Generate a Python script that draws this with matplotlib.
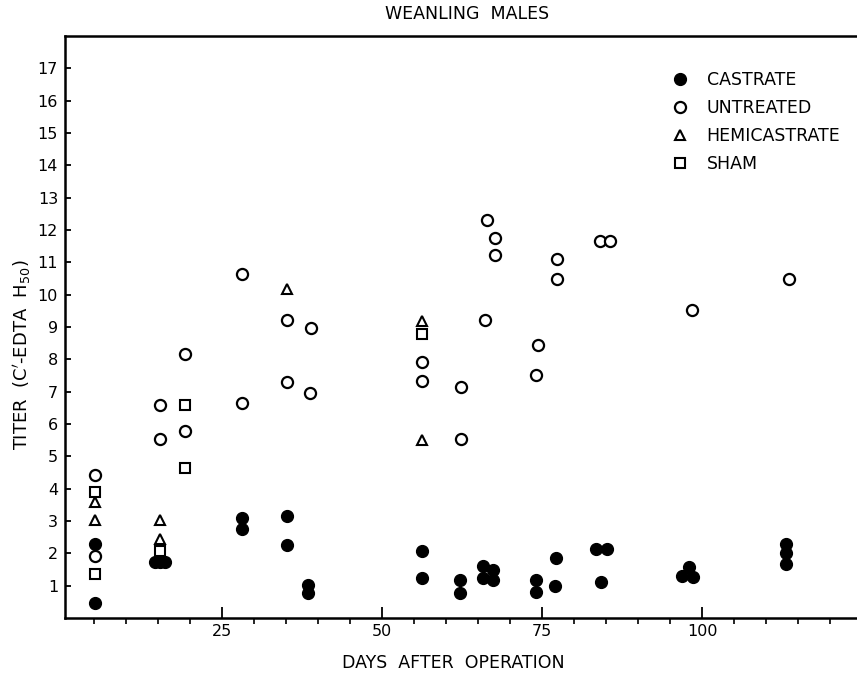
import matplotlib.pyplot as plt
from matplotlib.ticker import MultipleLocator

# Data (days after operation, titer)
castrate_days = [5.2, 5.2, 14.5, 15.3, 16.1, 28.1, 28.1, 35.1, 35.1, 38.4, 38.4,
                 56.2, 56.2, 62.2, 62.2, 65.8, 65.8, 67.3, 67.3, 74.1, 74.1,
                 77.2, 77.0, 83.5, 85.1, 84.2, 96.8, 98.0, 98.6, 113.1, 113.1, 113.1]
castrate_titer = [2.28, 0.45, 1.72, 1.72, 1.72, 3.10, 2.74, 3.15, 2.26, 1.02, 0.76,
                  2.08, 1.25, 1.17, 0.78, 1.60, 1.25, 1.50, 1.17, 1.17, 0.81,
                  1.86, 0.99, 2.12, 2.12, 1.12, 1.31, 1.59, 1.26, 2.29, 2.00, 1.67]

untreated_days = [5.2, 5.2, 15.3, 15.3, 19.2, 19.2, 28.2, 28.2, 35.2, 35.2, 38.9, 38.75,
                  56.2, 56.2, 62.3, 62.3, 66.4, 67.7, 67.7, 66.1, 74.3, 74.1,
                  77.3, 77.3, 84.1, 85.6, 98.4, 113.6]
untreated_titer = [4.42, 1.93, 6.60, 5.53, 8.18, 5.78, 10.65, 6.65, 9.21, 7.30, 8.96, 6.96,
                   7.92, 7.34, 7.15, 5.55, 12.30, 11.74, 11.24, 9.23, 8.44, 7.53,
                   11.09, 10.50, 11.65, 11.65, 9.52, 10.47]

hemi_days = [5.2, 5.2, 15.3, 15.3, 35.2, 56.2, 56.2]
hemi_titer = [3.60, 3.03, 3.03, 2.43, 10.19, 9.18, 5.52]

sham_days = [5.2, 5.2, 15.3, 19.2, 19.2, 56.2]
sham_titer = [3.90, 1.35, 2.07, 6.60, 4.63, 8.77]

fig = plt.figure(figsize=(8.57, 6.73), dpi=100)
ax = fig.add_axes([65 / 857, 55 / 673, 1 - 65 / 857, 582 / 673])

ax.plot(castrate_days, castrate_titer, 'o', color='black', markersize=8.5,
        linestyle='none', label='CASTRATE')
ax.plot(untreated_days, untreated_titer, 'o', markerfacecolor='white',
        markeredgecolor='black', markeredgewidth=1.6, markersize=8,
        linestyle='none', label='UNTREATED')
ax.plot(hemi_days, hemi_titer, '^', markerfacecolor='white',
        markeredgecolor='black', markeredgewidth=1.5, markersize=7.5,
        linestyle='none', label='HEMICASTRATE')
ax.plot(sham_days, sham_titer, 's', markerfacecolor='white',
        markeredgecolor='black', markeredgewidth=1.5, markersize=7.5,
        linestyle='none', label='SHAM')

ax.set_xlim(0.5, 124.2)
ax.set_ylim(0, 18)

# axis styling
ax.spines['right'].set_visible(False)
for s in ['left', 'bottom', 'top']:
    ax.spines[s].set_linewidth(1.8)

ax.set_xticks([25, 50, 75, 100])
ax.xaxis.set_minor_locator(MultipleLocator(5))
ax.set_yticks(range(1, 18))
ax.tick_params(axis='both', direction='in', labelsize=11.5, width=1.3)
ax.tick_params(axis='x', which='major', length=8, pad=4)
ax.tick_params(axis='x', which='minor', length=4, width=1.2)
ax.tick_params(axis='y', which='major', length=4, pad=5)

fig.text(467 / 857, 1 - 14 / 673, 'WEANLING  MALES',
         ha='center', va='center', fontsize=12.5)
fig.text(453 / 857, 1 - 663 / 673, 'DAYS  AFTER  OPERATION',
         ha='center', va='center', fontsize=12.5)
fig.text(22 / 857, 1 - 355 / 673, "TITER  (C$^{\\prime}$-EDTA  H$_{50}$)",
         rotation=90, ha='center', va='center', fontsize=13)

ax.legend(loc='upper left', bbox_to_anchor=(664 / 857, 1 - 64 / 673),
          bbox_transform=fig.transFigure, frameon=False, fontsize=12.5,
          handlelength=1.0, handletextpad=1.05, labelspacing=0.58,
          borderaxespad=0)

fig.savefig('out.png', dpi=100)
